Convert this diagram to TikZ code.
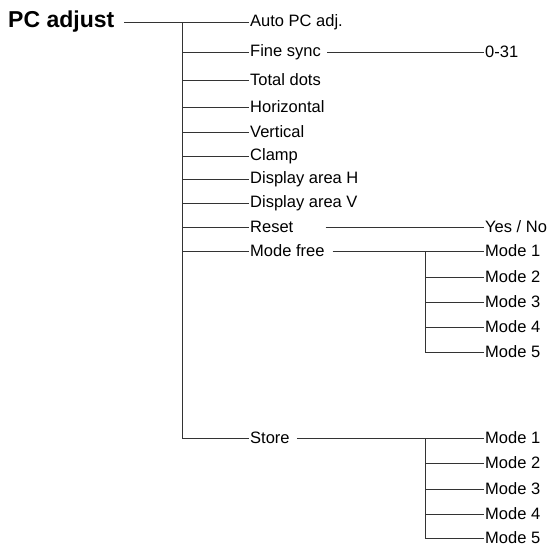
\documentclass[tikz,border=0pt]{standalone}
\usepackage{fontspec}
\setmainfont{Liberation Sans}
\usetikzlibrary{calc}
\tikzset{
  item/.style={anchor=west, inner sep=1pt, font=\fontsize{16.5}{18}\selectfont},
  branch/.style={line width=1pt, draw=black!80},
}

\begin{document}
\begin{tikzpicture}[x=1pt, y=-1pt]
\useasboundingbox (0,0) rectangle (556,546);

\node[anchor=west, inner sep=0pt, font=\fontsize{23}{25}\selectfont\bfseries] (title) at (8,22) {PC adjust};
\coordinate (trunk) at (182,22);

% first level of the menu
\foreach \name/\y/\txt in {auto/22/Auto PC adj., fine/52/Fine sync, total/80/Total dots, horiz/107/Horizontal, vert/132/Vertical, clamp/156/Clamp, dispH/179/Display area H, dispV/203/Display area V, reset/227/Reset, free/251/Mode free, store/438/Store}{
  \node[item] (\name) at (249,\y) {\txt};
  \draw[branch] (\name.west -| trunk) -- (\name.west);
}
\draw[branch] ([xshift=10pt]title.east) -- (trunk);
\draw[branch] (trunk) -- (store.west -| trunk);

\node[item] (fineval) at (484,52) {0-31};
\draw[branch] ([xshift=5pt]fine.east) -- (fineval.west);

\node[item] (yesno) at (484,227) {Yes / No};
\draw[branch] ([xshift=31pt]reset.east) -- (yesno.west);

% mode free
\coordinate (freejoin) at (425,251);
\foreach \i/\y in {1/251,2/277,3/302,4/327,5/352}{
  \node[item] (free\i) at (484,\y) {Mode \i};
  \draw[branch] (free\i.west -| freejoin) -- (free\i.west);
}
\draw[branch] ([xshift=7pt]free.east) -- (freejoin);
\draw[branch] (freejoin) -- (free5.west -| freejoin);

% store
\coordinate (storejoin) at (425,438);
\foreach \i/\y in {1/438,2/463,3/489,4/514,5/538}{
  \node[item] (store\i) at (484,\y) {Mode \i};
  \draw[branch] (store\i.west -| storejoin) -- (store\i.west);
}
\draw[branch] ([xshift=6pt]store.east) -- (storejoin);
\draw[branch] (storejoin) -- (store5.west -| storejoin);
\end{tikzpicture}
\end{document}
